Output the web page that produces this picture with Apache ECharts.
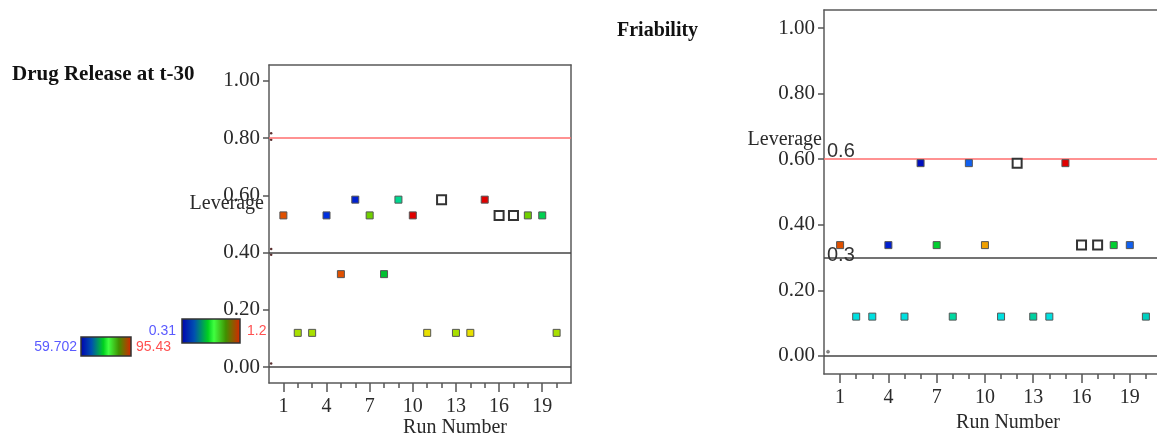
<!DOCTYPE html>
<html>
<head>
<meta charset="utf-8">
<script src="https://cdn.jsdelivr.net/npm/echarts@6/dist/echarts.min.js"></script>
<style>
  html, body { margin: 0; padding: 0; background: #fff; }
  #chart { width: 1157px; height: 435px; }
</style>
</head>
<body>
<div id="chart"></div>
<script>
// Run numbers of the design
const runs = [1, 2, 3, 4, 5, 6, 7, 8, 9, 10, 11, 12, 13, 14, 15, 16, 17, 18, 19, 20];

// Leverage per run, Drug Release at t-30 model
const releaseLeverage = [0.53, 0.12, 0.12, 0.53, 0.325, 0.585, 0.53, 0.325, 0.585, 0.53,
                         0.12, 0.585, 0.12, 0.12, 0.585, 0.53, 0.53, 0.53, 0.53, 0.12];
// Leverage per run, Friability model
const friabilityLeverage = [0.338, 0.12, 0.12, 0.338, 0.12, 0.588, 0.338, 0.12, 0.588, 0.338,
                            0.12, 0.588, 0.12, 0.12, 0.588, 0.338, 0.338, 0.338, 0.338, 0.12];

// Marker fill per run (response colour scale); white = run without a response value
const releaseColors = ['#e05000', '#a8e000', '#a8e000', '#0030e0', '#e05000', '#0020d0', '#70d000',
                       '#00c030', '#00d890', '#e00000', '#e8e000', '#ffffff', '#a8e000', '#e8e000',
                       '#e00000', '#ffffff', '#ffffff', '#70d000', '#00d050', '#a8e000'];
const friabilityColors = ['#e05000', '#00e0e0', '#00e0e0', '#0020d0', '#00e0e0', '#0010c0', '#00d030',
                          '#00d8a0', '#1060f0', '#f0a000', '#00e0e0', '#ffffff', '#00d0a0', '#00e0e0',
                          '#e00000', '#ffffff', '#ffffff', '#00d030', '#1060f0', '#00d0c0'];

// Reference lines (leverage limits)
const releaseLimit = 0.8, releaseWarn = 0.4, releaseBase = 0.0;
const friabilityLimit = 0.6, friabilityWarn = 0.3, friabilityBase = 0.0;

// Small stray marks near the left edge of each plot
const releaseEdgeMarks = [[0.15, 0.817], [0.15, 0.794], [0.15, 0.413], [0.15, 0.393], [0.15, 0.013]];
const friabilityEdgeMarks = [[0.25, 0.013]];

// Axis ticks and labels
const yTickValues = [0, 0.2, 0.4, 0.6, 0.8, 1.0];
const xLabelValues = [1, 4, 7, 10, 13, 16, 19];

// Colour-scale legends: [low, high]
const releaseScale = ['59.702', '95.43'];
const friabilityScale = ['0.31', '1.2'];

const serif = '"Liberation Serif", "Times New Roman", serif';
const sans = '"Liberation Sans", Arial, sans-serif';
const tickColor = '#555';
const frameColor = '#5a5a5a';
const textColor = '#2a2a2a';

function points(values, colors) {
  return values.map((v, i) => {
    const open = colors[i] === '#ffffff';
    return {
      value: [runs[i], v],
      symbolSize: open ? 9 : 7,
      itemStyle: {
        color: colors[i],
        opacity: 1,
        borderColor: open ? '#333' : '#555',
        borderWidth: open ? 2 : 1
      }
    };
  });
}

const frameLine = { show: true, onZero: false, lineStyle: { color: frameColor, width: 1.5 } };
const noLine = { show: false, onZero: false };

function yAxisFor(gridIndex) {
  return {
    type: 'value', gridIndex, min: -0.055, max: 1.055, position: 'left',
    axisLine: frameLine,
    splitLine: { show: false },
    axisTick: { show: true, customValues: yTickValues, length: 6, lineStyle: { color: tickColor, width: 1.5 } },
    axisLabel: {
      customValues: yTickValues, margin: 9,
      formatter: v => v.toFixed(2),
      fontFamily: serif, fontSize: 21, color: textColor
    }
  };
}

// Right-hand frame edge (left plot only; the right plot runs off the page)
function yFrameRight(gridIndex) {
  return {
    type: 'value', gridIndex, min: -0.055, max: 1.055, position: 'right',
    axisLine: frameLine, axisTick: { show: false }, axisLabel: { show: false }, splitLine: { show: false }
  };
}

function xMajor(gridIndex) {
  return {
    type: 'value', gridIndex, min: 0, max: 21, position: 'bottom',
    axisLine: frameLine,
    splitLine: { show: false },
    axisTick: { show: true, customValues: xLabelValues, length: 9, lineStyle: { color: tickColor, width: 1.5 } },
    axisLabel: {
      customValues: xLabelValues, margin: 14,
      fontFamily: serif, fontSize: 20, color: textColor
    }
  };
}

function xMinor(gridIndex) {
  return {
    type: 'value', gridIndex, min: 0, max: 21, position: 'bottom',
    axisLine: noLine,
    splitLine: { show: false },
    axisTick: { show: true, customValues: runs, length: 5, lineStyle: { color: tickColor, width: 1.5 } },
    axisLabel: { show: false }
  };
}

// Top frame edge
function xTop(gridIndex) {
  return {
    type: 'value', gridIndex, min: 0, max: 21, position: 'top',
    axisLine: frameLine, axisTick: { show: false }, axisLabel: { show: false }, splitLine: { show: false }
  };
}

function refLine(y, color, labelOpts) {
  const item = { yAxis: y, lineStyle: { color, width: 1.6, type: 'solid' } };
  item.label = labelOpts || { show: false };
  return item;
}

const lineLabel = (dist) => ({
  show: true, formatter: '{c}', position: 'insideStartTop', distance: dist,
  fontFamily: sans, fontSize: 20, color: '#333'
});

function gradientBox(x, y, w, h) {
  return {
    type: 'rect', shape: { x, y, width: w, height: h },
    style: {
      fill: new echarts.graphic.LinearGradient(0, 0, 1, 0, [
        { offset: 0, color: '#0000b0' },
        { offset: 0.22, color: '#0050b0' },
        { offset: 0.45, color: '#00d020' },
        { offset: 0.55, color: '#40ff40' },
        { offset: 0.75, color: '#409000' },
        { offset: 1, color: '#e02000' }
      ]),
      stroke: '#333', lineWidth: 1.5
    }
  };
}

function text(x, y, str, opts) {
  return {
    type: 'text', x, y,
    style: Object.assign({ text: str, textVerticalAlign: 'middle', fill: textColor }, opts)
  };
}

const chart = echarts.init(document.getElementById('chart'), null, { renderer: 'canvas' });

chart.setOption({
  animation: false,
  backgroundColor: '#fff',
  grid: [
    { left: 269, top: 65, width: 302, height: 318, outerBoundsMode: 'none' },
    { left: 824, top: 10, width: 338, height: 364, outerBoundsMode: 'none' }
  ],
  xAxis: [xMajor(0), xMinor(0), xMajor(1), xMinor(1), xTop(0), xTop(1)],
  yAxis: [yAxisFor(0), yAxisFor(1), yFrameRight(0)],
  series: [
    {
      name: 'Drug Release at t-30', type: 'scatter', symbol: 'rect',
      xAxisIndex: 0, yAxisIndex: 0, z: 5,
      data: points(releaseLeverage, releaseColors),
      markLine: {
        symbol: 'none', silent: true, animation: false,
        data: [
          refLine(releaseLimit, '#ff6e6e'),
          refLine(releaseWarn, '#444'),
          refLine(releaseBase, '#444')
        ]
      }
    },
    {
      type: 'scatter', symbol: 'circle', symbolSize: 2.5, silent: true,
      xAxisIndex: 0, yAxisIndex: 0,
      itemStyle: { color: '#5a3030', opacity: 1 },
      data: releaseEdgeMarks
    },
    {
      name: 'Friability', type: 'scatter', symbol: 'rect',
      xAxisIndex: 2, yAxisIndex: 1, z: 5,
      data: points(friabilityLeverage, friabilityColors),
      markLine: {
        symbol: 'none', silent: true, animation: false,
        data: [
          refLine(friabilityLimit, '#ff6e6e', lineLabel([3, -2])),
          refLine(friabilityWarn, '#444', lineLabel([3, -8])),
          refLine(friabilityBase, '#444')
        ]
      }
    },
    {
      type: 'scatter', symbol: 'circle', symbolSize: 3, silent: true,
      xAxisIndex: 2, yAxisIndex: 1,
      itemStyle: { color: '#888', borderColor: '#555', borderWidth: 0.5, opacity: 1 },
      data: friabilityEdgeMarks
    }
  ],
  graphic: [
    text(12, 75, 'Drug Release at t-30', { font: 'bold 21px ' + serif, fill: '#111' }),
    text(617, 31, 'Friability', { font: 'bold 20px ' + serif, fill: '#111' }),
    text(264, 204, 'Leverage', { font: '20px ' + serif, textAlign: 'right' }),
    text(822, 140, 'Leverage', { font: '20px ' + serif, textAlign: 'right' }),
    text(455, 428, 'Run Number', { font: '20px ' + serif, textAlign: 'center' }),
    text(1008, 423, 'Run Number', { font: '20px ' + serif, textAlign: 'center' }),
    gradientBox(81, 337, 50, 19),
    text(77, 347, releaseScale[0], { font: '14px ' + sans, fill: '#5a5aff', textAlign: 'right' }),
    text(136, 347, releaseScale[1], { font: '14px ' + sans, fill: '#ff5050' }),
    gradientBox(182, 319, 58, 24),
    text(176, 331, friabilityScale[0], { font: '14px ' + sans, fill: '#5a5aff', textAlign: 'right' }),
    text(247, 331, friabilityScale[1], { font: '14px ' + sans, fill: '#ff5050' })
  ]
});
</script>
</body>
</html>
